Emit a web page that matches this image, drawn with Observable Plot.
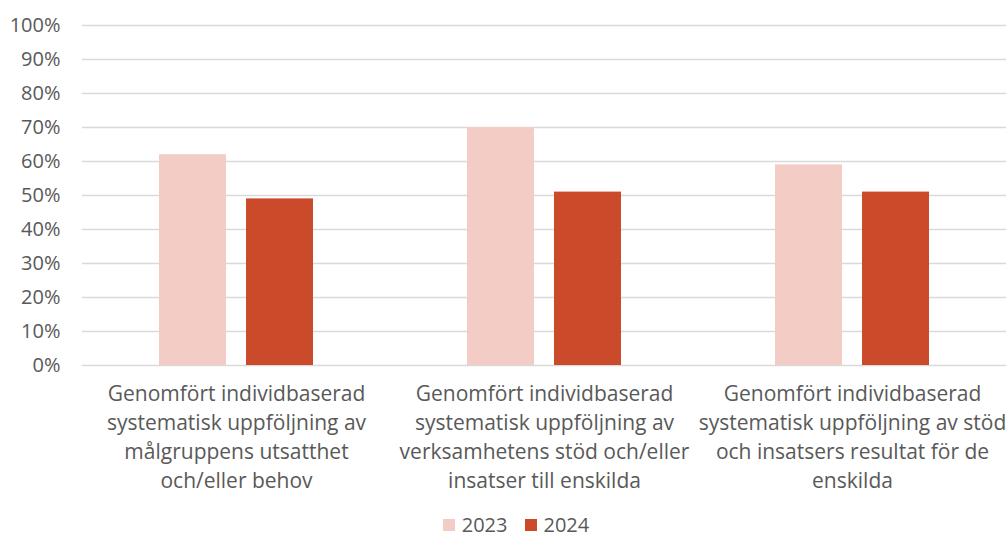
<!DOCTYPE html>
<html>
<head>
<meta charset="utf-8">
<script src="https://cdn.jsdelivr.net/npm/d3@7"></script>
<script src="https://cdn.jsdelivr.net/npm/@observablehq/plot@0.6"></script>
<style>
  html, body { margin: 0; padding: 0; background: #fff; }
  body { width: 1008px; height: 536px; overflow: hidden; position: relative; font-family: 'Open Sans', sans-serif; color: #595959; }
  #legend { position: absolute; left: 0; right: 0; top: 514px; display: flex; justify-content: center; align-items: center; gap: 17px; font-size: 20px; line-height: 22px; height: 22px; padding-left: 24px; }
  .item { display: flex; align-items: center; gap: 7px; }
  .sw { width: 12px; height: 12px; display: inline-block; }
</style>
</head>
<body>
<div id="chart"></div>
<div id="legend"></div>
<script>
const categories = [
  "Genomfört individbaserad\nsystematisk uppföljning av\nmålgruppens utsatthet\noch/eller behov",
  "Genomfört individbaserad\nsystematisk uppföljning av\nverksamhetens stöd och/eller\ninsatser till enskilda",
  "Genomfört individbaserad\nsystematisk uppföljning av stöd\noch insatsers resultat för de\nenskilda"
];
const years = ["2023", "2024"];
const values2023 = [62, 70, 59];
const values2024 = [49, 51, 51];
const yTicks = [0, 10, 20, 30, 40, 50, 60, 70, 80, 90, 100];
const colors = ["#f3cdc5", "#cb4a29"];

const data = [];
categories.forEach((c, i) => {
  data.push({category: c, year: years[0], value: values2023[i]});
  data.push({category: c, year: years[1], value: values2024[i]});
});

const chart = Plot.plot({
  width: 1008,
  height: 512,
  marginLeft: 81,
  marginRight: 2,
  marginTop: 25,
  marginBottom: 147,
  style: {fontFamily: "'Open Sans', sans-serif", fontSize: "20px", color: "#595959", background: "#fff"},
  fx: {domain: categories, padding: 0, label: null, axis: null},
  x: {domain: years, paddingInner: 0.227, paddingOuter: 0.864, axis: null},
  y: {domain: [0, 100], label: null},
  color: {domain: years, range: colors},
  marks: [
    Plot.gridY(yTicks, {stroke: "#d9d9d9", strokeOpacity: 1, strokeWidth: 1.5}),
    Plot.axisY(yTicks, {tickSize: 0, tickPadding: 22, tickFormat: d => d + "%", fill: "#595959", fontSize: 20, label: null}),
    Plot.barY(data, {fx: "category", x: "year", y: "value", fill: "year"}),
    Plot.text(categories, {fx: d => d, text: d => d, frameAnchor: "bottom", lineAnchor: "top", dy: 15.5, lineHeight: 1.37, fontSize: 21, fill: "#595959"})
  ]
});
document.getElementById("chart").appendChild(chart);

const legend = document.getElementById("legend");
years.forEach((y, i) => {
  const it = document.createElement("div");
  it.className = "item";
  const sw = document.createElement("span");
  sw.className = "sw";
  sw.style.background = colors[i];
  const t = document.createElement("span");
  t.textContent = y;
  it.appendChild(sw);
  it.appendChild(t);
  legend.appendChild(it);
});
</script>
</body>
</html>
